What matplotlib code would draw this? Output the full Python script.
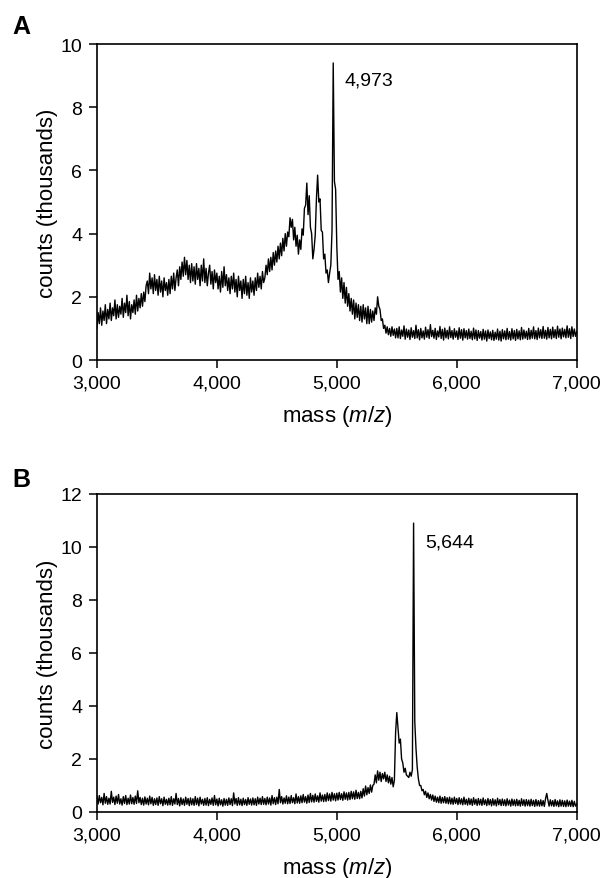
import numpy as np
import matplotlib
matplotlib.use("Agg")
import matplotlib.pyplot as plt

plt.rcParams['font.family'] = ['Liberation Sans', 'DejaVu Sans']
plt.rcParams['mathtext.fontset'] = 'custom'
plt.rcParams['mathtext.rm'] = 'Liberation Sans'
plt.rcParams['mathtext.it'] = 'Liberation Sans:italic'

# mass grid, 10 m/z steps from 3,000 to 7,000
mass = np.arange(3000, 7001, 10)

# panel A counts (thousands), one row per 100 m/z
counts_a = [
  1.0, 1.5, 1.15, 1.65, 1.1, 1.55, 1.25, 1.75, 1.15, 1.6,
  1.3, 1.8, 1.25, 1.65, 1.4, 1.9, 1.3, 1.75, 1.35, 1.7,
  1.45, 1.95, 1.35, 1.8, 1.5, 2.05, 1.4, 1.85, 1.3, 1.75,
  1.5, 1.9, 1.45, 2.05, 1.55, 1.95, 1.65, 2.1, 1.7, 2.15,
  1.85, 2.35, 2.5, 2.1, 2.75, 2.25, 2.6, 2.1, 2.7, 2.2,
  2.55, 2.05, 2.65, 2.15, 2.5, 2.0, 2.6, 2.2, 2.45, 2.05,
  2.55, 2.1, 2.65, 2.25, 2.75, 2.2, 2.6, 2.85, 2.35, 2.95,
  2.55, 3.1, 2.65, 3.25, 2.7, 3.15, 2.55, 3.0, 2.45, 3.05,
  2.5, 2.95, 2.4, 3.05, 2.55, 2.9, 2.35, 3.0, 2.5, 3.2,
  2.45, 2.9, 2.35, 2.75, 3.0, 2.4, 2.8, 2.25, 2.85, 2.45,
  2.75, 2.25, 2.65, 2.15, 2.8, 2.3, 2.95, 2.35, 2.7, 2.2,
  2.6, 2.1, 2.65, 2.25, 2.75, 2.15, 2.55, 2.0, 2.65, 2.2,
  2.5, 1.95, 2.55, 2.1, 2.65, 2.05, 2.45, 1.95, 2.6, 2.15,
  2.5, 2.05, 2.6, 2.2, 2.75, 2.3, 2.65, 2.25, 2.8, 2.45,
  2.6, 3.0, 2.7, 3.2, 2.8, 3.25, 2.85, 3.4, 3.0, 3.45,
  3.1, 3.6, 3.2, 3.7, 3.3, 3.85, 3.45, 4.0, 3.6, 4.05,
  3.9, 4.5, 4.2, 4.45, 3.8, 4.2, 3.6, 3.95, 3.35, 3.8,
  3.5, 4.15, 3.95, 4.8, 4.9, 5.6, 4.6, 5.2, 4.2, 4.0,
  3.2, 3.5, 3.95, 5.1, 5.85, 5.0, 5.1, 4.1, 4.05, 3.2,
  3.35, 2.75, 2.85, 2.45, 2.75, 3.0, 4.1, 9.4, 5.65, 5.4,
  3.6, 2.55, 2.8, 2.15, 2.6, 1.95, 2.45, 1.8, 2.3, 1.7,
  2.1, 1.55, 1.95, 1.45, 1.9, 1.3, 1.8, 1.35, 1.75, 1.25,
  1.7, 1.2, 1.75, 1.3, 1.65, 1.15, 1.7, 1.15, 1.6, 1.2,
  1.55, 1.25, 1.65, 1.45, 2.0, 1.7, 1.6, 1.25, 1.3, 1.0,
  1.1, 0.85, 1.05, 0.8, 1.0, 0.75, 1.05, 0.78, 0.98, 0.7,
  1.0, 0.7, 1.05, 0.68, 0.95, 0.75, 1.08, 0.66, 0.98, 0.72,
  0.95, 0.65, 1.02, 0.72, 0.93, 0.68, 1.1, 0.7, 0.96, 0.64,
  1.0, 0.7, 0.92, 0.66, 1.04, 0.72, 0.96, 0.68, 1.12, 0.74,
  0.94, 0.69, 1.0, 0.65, 0.92, 0.73, 1.06, 0.68, 0.97, 0.63,
  1.01, 0.7, 0.94, 0.67, 1.05, 0.71, 0.93, 0.66, 0.99, 0.72,
  0.92, 0.65, 1.02, 0.69, 0.96, 0.63, 0.99, 0.7, 0.93, 0.66,
  0.98, 0.68, 0.91, 0.64, 1.01, 0.67, 0.95, 0.62, 0.93, 0.69,
  0.9, 0.63, 0.97, 0.66, 0.92, 0.6, 0.95, 0.68, 0.89, 0.64,
  0.94, 0.62, 0.88, 0.66, 0.98, 0.63, 0.91, 0.6, 0.96, 0.67,
  0.92, 0.64, 1.0, 0.66, 0.9, 0.63, 0.99, 0.67, 0.93, 0.62,
  0.97, 0.67, 0.92, 0.64, 1.03, 0.66, 0.95, 0.69, 0.91, 0.65,
  1.0, 0.66, 0.94, 0.69, 1.05, 0.67, 0.93, 0.65, 1.01, 0.7,
  0.96, 0.68, 1.06, 0.69, 0.94, 0.66, 1.03, 0.7, 0.97, 0.67,
  1.04, 0.71, 0.96, 0.68, 1.07, 0.72, 0.98, 0.67, 1.01, 0.73,
  0.97, 0.7, 1.08, 0.72, 0.99, 0.68, 1.05, 0.74, 0.98, 0.75,
  0.9,
]

# panel B counts (thousands)
counts_b = [
  0.6, 0.3, 0.62, 0.35, 0.55, 0.27, 0.7, 0.33, 0.58, 0.29,
  0.52, 0.3, 0.78, 0.36, 0.56, 0.28, 0.6, 0.33, 0.66, 0.3,
  0.5, 0.26, 0.58, 0.32, 0.62, 0.28, 0.52, 0.3, 0.64, 0.31,
  0.55, 0.29, 0.6, 0.32, 0.8, 0.35, 0.55, 0.28, 0.52, 0.26,
  0.57, 0.3, 0.52, 0.27, 0.6, 0.31, 0.55, 0.25, 0.5, 0.28,
  0.53, 0.25, 0.58, 0.31, 0.5, 0.24, 0.56, 0.29, 0.48, 0.26,
  0.52, 0.27, 0.58, 0.25, 0.5, 0.3, 0.7, 0.28, 0.51, 0.23,
  0.54, 0.28, 0.49, 0.25, 0.56, 0.29, 0.51, 0.24, 0.53, 0.27,
  0.5, 0.25, 0.58, 0.28, 0.52, 0.23, 0.56, 0.3, 0.48, 0.25,
  0.51, 0.26, 0.54, 0.24, 0.48, 0.29, 0.53, 0.25, 0.62, 0.27,
  0.49, 0.23, 0.52, 0.27, 0.46, 0.22, 0.51, 0.26, 0.48, 0.25,
  0.53, 0.28, 0.5, 0.24, 0.72, 0.3, 0.51, 0.25, 0.54, 0.27,
  0.48, 0.24, 0.52, 0.28, 0.47, 0.25, 0.54, 0.29, 0.49, 0.26,
  0.53, 0.27, 0.5, 0.25, 0.56, 0.3, 0.52, 0.28, 0.58, 0.29,
  0.51, 0.27, 0.56, 0.3, 0.53, 0.26, 0.62, 0.31, 0.54, 0.28,
  0.56, 0.31, 0.85, 0.35, 0.58, 0.3, 0.53, 0.33, 0.61, 0.31,
  0.56, 0.32, 0.62, 0.35, 0.54, 0.31, 0.68, 0.34, 0.58, 0.33,
  0.61, 0.35, 0.66, 0.37, 0.58, 0.33, 0.64, 0.36, 0.7, 0.38,
  0.63, 0.37, 0.68, 0.4, 0.61, 0.37, 0.72, 0.41, 0.64, 0.39,
  0.66, 0.4, 0.72, 0.43, 0.68, 0.41, 0.74, 0.45, 0.69, 0.42,
  0.71, 0.45, 0.74, 0.47, 0.69, 0.44, 0.76, 0.48, 0.72, 0.45,
  0.74, 0.47, 0.78, 0.5, 0.76, 0.48, 0.82, 0.51, 0.74, 0.5,
  0.78, 0.53, 0.88, 0.6, 0.98, 0.65, 0.92, 0.7, 1.02, 0.75,
  1.0, 1.05, 1.4, 1.1, 1.55, 1.2, 1.5, 1.15, 1.45, 1.25,
  1.5, 1.15, 1.4, 1.1, 1.35, 1.05, 1.3, 0.95, 1.2, 3.0,
  3.75, 3.2, 2.6, 2.75, 2.0, 1.85, 1.5, 1.65, 1.4, 1.35,
  1.3, 1.5, 1.35, 1.6, 10.9, 3.4, 2.4, 1.7, 1.25, 1.0,
  1.0, 0.8, 0.85, 0.65, 0.78, 0.55, 0.72, 0.5, 0.66, 0.45,
  0.64, 0.4, 0.6, 0.37, 0.56, 0.35, 0.6, 0.33, 0.55, 0.35,
  0.58, 0.33, 0.54, 0.31, 0.56, 0.3, 0.52, 0.29, 0.56, 0.32,
  0.51, 0.28, 0.54, 0.3, 0.5, 0.27, 0.56, 0.29, 0.48, 0.26,
  0.52, 0.28, 0.49, 0.25, 0.54, 0.29, 0.48, 0.25, 0.51, 0.27,
  0.48, 0.25, 0.53, 0.28, 0.46, 0.24, 0.51, 0.27, 0.47, 0.23,
  0.5, 0.26, 0.46, 0.23, 0.52, 0.27, 0.47, 0.24, 0.49, 0.25,
  0.46, 0.23, 0.5, 0.26, 0.45, 0.22, 0.49, 0.25, 0.46, 0.23,
  0.48, 0.24, 0.44, 0.22, 0.5, 0.25, 0.46, 0.22, 0.47, 0.24,
  0.45, 0.22, 0.48, 0.24, 0.44, 0.21, 0.47, 0.23, 0.43, 0.22,
  0.46, 0.23, 0.43, 0.21, 0.5, 0.7, 0.44, 0.22, 0.46, 0.23,
  0.43, 0.21, 0.47, 0.23, 0.42, 0.2, 0.46, 0.22, 0.44, 0.21,
  0.42, 0.2, 0.45, 0.22, 0.41, 0.21, 0.44, 0.2, 0.4, 0.22,
  0.3,
]

xticks = [3000, 4000, 5000, 6000, 7000]
xticklabels = ["3,000", "4,000", "5,000", "6,000", "7,000"]
yticks_a = [0, 2, 4, 6, 8, 10]
yticks_b = [0, 2, 4, 6, 8, 10, 12]
peak_a = (5067, 8.85, "4,973")
peak_b = (5733, 10.2, "5,644")


def style(ax, yticks, ymax):
  ax.set_xlim(3000, 7000)
  ax.set_ylim(0, ymax)
  ax.set_xticks(xticks)
  ax.set_xticklabels(xticklabels)
  ax.set_yticks(yticks)
  ax.tick_params(direction="out", length=6, width=1.1, labelsize=14, pad=4.5,
                 top=False, right=False)
  for s in ax.spines.values():
    s.set_linewidth(1.2)
  ax.set_xlabel("mass ($\\mathit{m/z}$)", fontsize=16, labelpad=8)
  ax.set_ylabel("counts (thousands)", fontsize=16, labelpad=2)


fig = plt.figure(figsize=(6.02, 8.79), dpi=100)

axa = fig.add_axes([0.161, 0.5893, 0.797, 0.3595])
axa.plot(mass, counts_a, color="black", lw=1.0)
style(axa, yticks_a, 10)
axa.text(peak_a[0], peak_a[1], peak_a[2], fontsize=14, va="center", ha="left")
fig.text(0.021, 0.969, "A", fontsize=18, fontweight="bold", va="center")

axb = fig.add_axes([0.161, 0.0751, 0.797, 0.3618])
axb.plot(mass, counts_b, color="black", lw=1.0)
style(axb, yticks_b, 12)
axb.text(peak_b[0], peak_b[1], peak_b[2], fontsize=14, va="center", ha="left")
fig.text(0.021, 0.454, "B", fontsize=18, fontweight="bold", va="center")

fig.savefig("out.png", dpi=100)
